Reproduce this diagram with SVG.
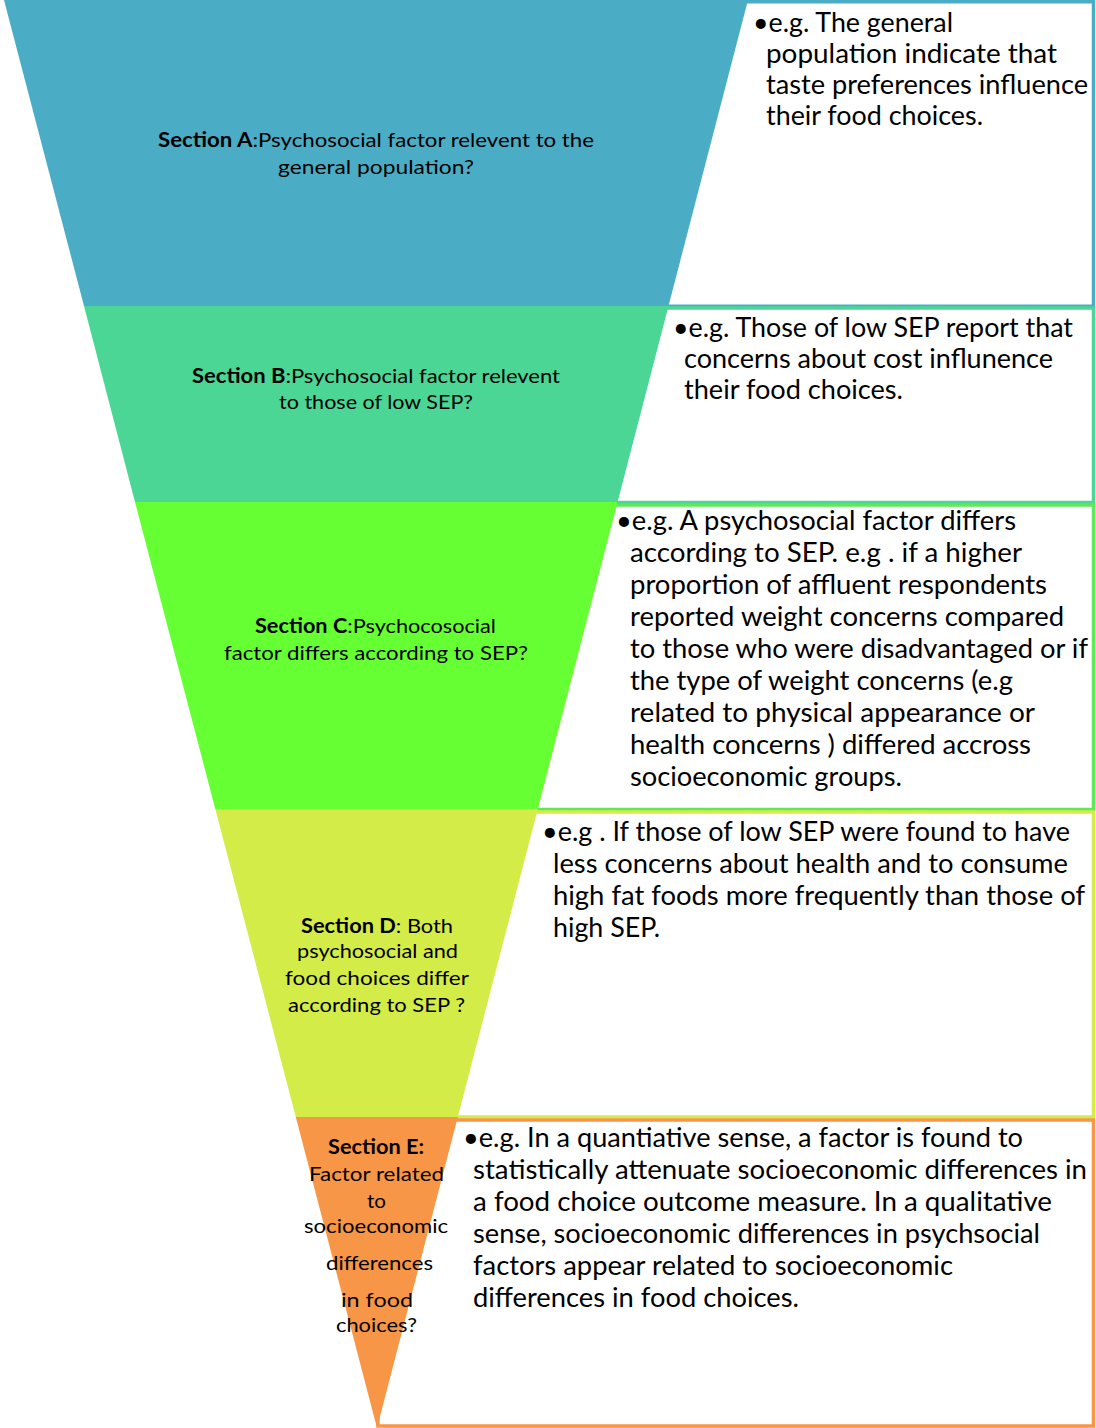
<svg xmlns="http://www.w3.org/2000/svg" width="1096" height="1428" viewBox="0 0 1096 1428">
  <style>
    .box { fill: #ffffff; stroke-width: 3.5; }
    .t { font-family: Lato, "Open Sans", "Liberation Sans", sans-serif; fill: #000000; }
    .lbl { font-size: 20px; }
    .body { font-size: 26px; }
    .b { font-weight: bold; }
  </style>

  <!-- example boxes sit behind the funnel; their left sides are hidden by it -->
  <g id="boxes">
    <rect id="box-a" class="box" x="660" y="1.75" width="433.5" height="304.5" stroke="#4BACC6"/>
    <rect id="box-b" class="box" x="610" y="308" width="483.5" height="194.5" stroke="#4BD695"/>
    <rect id="box-c" class="box" x="525" y="505" width="568.5" height="304.5" stroke="#5EE85A"/>
    <rect id="box-d" class="box" x="450" y="812" width="643.5" height="305" stroke="#D4EC47"/>
    <rect id="box-e" class="box" x="378" y="1120" width="715.5" height="306" stroke="#F79646"/>
  </g>

  <!-- funnel bands -->
  <g id="section-a">
    <polygon points="4,0 748,0 668.5,306 84,306" fill="#4BACC6"/>
    <text class="t lbl" x="158" y="147" textLength="436" lengthAdjust="spacingAndGlyphs"><tspan class="b">Section A</tspan>:Psychosocial factor relevent to the</text>
    <text class="t lbl" x="278" y="174" textLength="196" lengthAdjust="spacingAndGlyphs">general population?</text>
  </g>
  <g id="section-b">
    <polygon points="84,306 668.5,306 617.6,502 135,502" fill="#4BD695"/>
    <text class="t lbl" x="192" y="383" textLength="368" lengthAdjust="spacingAndGlyphs"><tspan class="b">Section B</tspan>:Psychosocial factor relevent</text>
    <text class="t lbl" x="279" y="409" textLength="194" lengthAdjust="spacingAndGlyphs">to those of low SEP?</text>
  </g>
  <g id="section-c">
    <polygon points="135,502 617.6,502 537.8,809 215.3,809" fill="#66FF33"/>
    <text class="t lbl" x="255" y="633" textLength="241" lengthAdjust="spacingAndGlyphs"><tspan class="b">Section C</tspan>:Psychocosocial</text>
    <text class="t lbl" x="224" y="660" textLength="304" lengthAdjust="spacingAndGlyphs">factor differs according to SEP?</text>
  </g>
  <g id="section-d">
    <polygon points="215.3,809 537.8,809 457.8,1117 295.8,1117" fill="#D4EC47"/>
    <text class="t lbl" x="301" y="933" textLength="152" lengthAdjust="spacingAndGlyphs"><tspan class="b">Section D</tspan>: Both</text>
    <text class="t lbl" x="297" y="958" textLength="161" lengthAdjust="spacingAndGlyphs">psychosocial and</text>
    <text class="t lbl" x="285" y="985" textLength="184" lengthAdjust="spacingAndGlyphs">food choices  differ</text>
    <text class="t lbl" x="288" y="1012" textLength="177" lengthAdjust="spacingAndGlyphs">according to SEP ?</text>
  </g>
  <g id="section-e">
    <polygon points="295.8,1117 457.8,1117 377,1428" fill="#F79646"/>
    <text class="t lbl b" x="328" y="1154" textLength="96" lengthAdjust="spacingAndGlyphs">Section E:</text>
    <text class="t lbl" x="309" y="1181" textLength="135" lengthAdjust="spacingAndGlyphs">Factor related</text>
    <text class="t lbl" x="367" y="1208" textLength="19" lengthAdjust="spacingAndGlyphs">to</text>
    <text class="t lbl" x="304" y="1233" textLength="144" lengthAdjust="spacingAndGlyphs">socioeconomic</text>
    <text class="t lbl" x="326" y="1270" textLength="107" lengthAdjust="spacingAndGlyphs">differences</text>
    <text class="t lbl" x="341" y="1307" textLength="72" lengthAdjust="spacingAndGlyphs">in  food</text>
    <text class="t lbl" x="336" y="1332" textLength="81" lengthAdjust="spacingAndGlyphs">choices?</text>
  </g>

  <!-- example texts -->
  <g id="example-a" class="t body">
    <text x="753" y="32" textLength="200" lengthAdjust="spacingAndGlyphs">•e.g. The general</text>
    <text x="766" y="63" textLength="291" lengthAdjust="spacingAndGlyphs">population  indicate that</text>
    <text x="766" y="94" textLength="322" lengthAdjust="spacingAndGlyphs">taste preferences influence</text>
    <text x="766" y="125" textLength="217" lengthAdjust="spacingAndGlyphs">their food choices.</text>
  </g>
  <g id="example-b" class="t body">
    <text x="673" y="337" textLength="400" lengthAdjust="spacingAndGlyphs">•e.g. Those of low SEP report that</text>
    <text x="684" y="368" textLength="369" lengthAdjust="spacingAndGlyphs">concerns about cost influnence</text>
    <text x="684" y="399" textLength="219" lengthAdjust="spacingAndGlyphs">their food choices.</text>
  </g>
  <g id="example-c" class="t body">
    <text x="616" y="530" textLength="400" lengthAdjust="spacingAndGlyphs">•e.g. A psychosocial factor differs</text>
    <text x="630" y="562" textLength="392" lengthAdjust="spacingAndGlyphs">according to SEP. e.g . if  a higher</text>
    <text x="630" y="594" textLength="417" lengthAdjust="spacingAndGlyphs">proportion of affluent respondents</text>
    <text x="630" y="626" textLength="434" lengthAdjust="spacingAndGlyphs">reported weight concerns compared</text>
    <text x="630" y="658" textLength="458" lengthAdjust="spacingAndGlyphs">to those who were disadvantaged or if</text>
    <text x="630" y="690" textLength="383" lengthAdjust="spacingAndGlyphs">the type of weight concerns (e.g</text>
    <text x="630" y="722" textLength="405" lengthAdjust="spacingAndGlyphs">related to  physical appearance or</text>
    <text x="630" y="754" textLength="401" lengthAdjust="spacingAndGlyphs">health concerns ) differed accross</text>
    <text x="630" y="786" textLength="272" lengthAdjust="spacingAndGlyphs">socioeconomic groups.</text>
  </g>
  <g id="example-d" class="t body">
    <text x="542" y="841" textLength="528" lengthAdjust="spacingAndGlyphs">•e.g . If those of low SEP were found to have</text>
    <text x="553" y="873" textLength="515" lengthAdjust="spacingAndGlyphs">less concerns about health and to consume</text>
    <text x="553" y="905" textLength="532" lengthAdjust="spacingAndGlyphs">high fat foods more frequently than those of</text>
    <text x="553" y="937" textLength="107" lengthAdjust="spacingAndGlyphs">high SEP.</text>
  </g>
  <g id="example-e" class="t body">
    <text x="463" y="1147" textLength="560" lengthAdjust="spacingAndGlyphs">•e.g. In a quantiative sense, a factor is found to</text>
    <text x="473" y="1179" textLength="614" lengthAdjust="spacingAndGlyphs">statistically attenuate  socioeconomic differences in</text>
    <text x="473" y="1211" textLength="579" lengthAdjust="spacingAndGlyphs">a food choice outcome measure.  In a qualitative</text>
    <text x="473" y="1243" textLength="567" lengthAdjust="spacingAndGlyphs">sense, socioeconomic differences in psychsocial</text>
    <text x="473" y="1275" textLength="480" lengthAdjust="spacingAndGlyphs">factors appear related to socioeconomic</text>
    <text x="473" y="1307" textLength="326" lengthAdjust="spacingAndGlyphs">differences in food choices.</text>
  </g>
</svg>
